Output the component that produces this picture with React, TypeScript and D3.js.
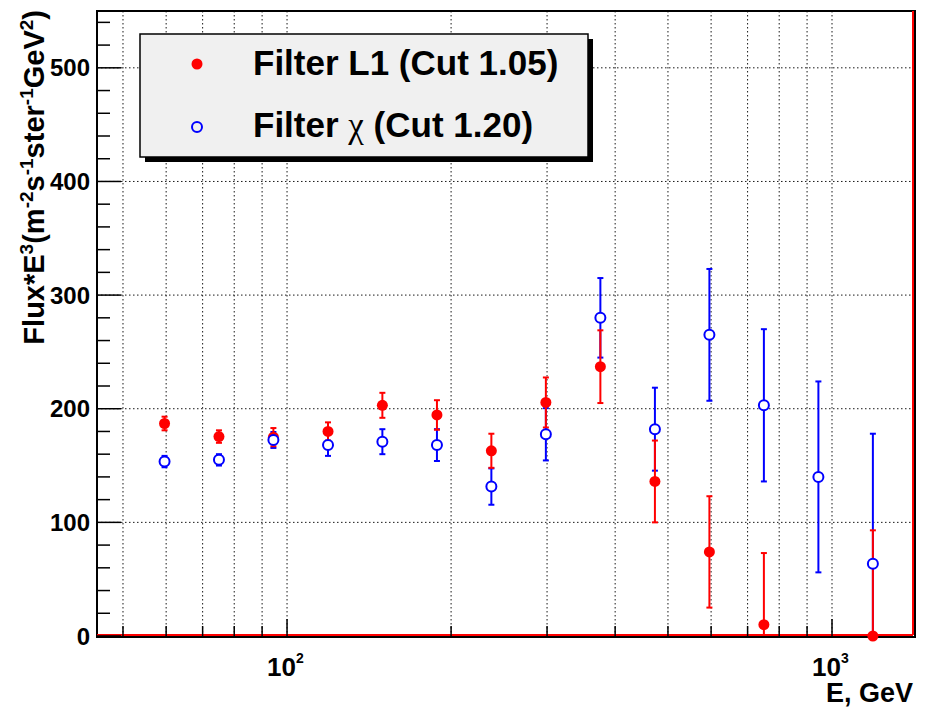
import React from "react";
import * as d3 from "d3";

const energy = [59.6, 75.0, 94.4, 118.9, 149.6, 188.4, 237.1, 298.5, 375.8, 473.2, 595.7, 749.9, 944.1, 1188.5];
const l1Val: (number | null)[] = [187, 175.5, 175, 180, 203, 194.5, 163, 205.5, 237, 136, 74, 10, null, 0];
const l1Err: (number | null)[] = [6, 5.5, 8, 8, 11, 13, 15, 22, 32, 36, 49, 63, null, 93];
const chiVal = [153.5, 155, 172.5, 168, 171, 168, 131.5, 177.5, 280, 182, 265, 203, 140, 63.5];
const chiErr = [5, 5, 7, 9.5, 11, 14, 16, 23, 35, 36.5, 58, 67, 84, 114.5];

const xTicks = [50, 60, 70, 80, 90, 100, 200, 300, 400, 500, 600, 700, 800, 900, 1000];
const xMajor = [100, 1000];
const xLabels = [{ v: 100, exp: "2" }, { v: 1000, exp: "3" }];
const yMajor = [0, 100, 200, 300, 400, 500];
const yMinor = d3.range(0, 560, 20);
const legendItems = ["Filter L1 (Cut 1.05)", "Filter χ (Cut 1.20)"];

const FONT = "Liberation Sans, Arial, Helvetica, sans-serif";

export default function App() {
  const L = 97, R = 915, T = 11, B = 636;
  const x = d3.scaleLog().domain([44.8, 1420]).range([L, R]);
  const y = d3.scaleLinear().domain([0, 550]).range([B, T]);
  const clampY = (v: number) => y(Math.max(0, Math.min(550, v)));

  const errBar = (cx: number, v: number, e: number, color: string, key: string) => {
    const top = clampY(v + e);
    const bot = clampY(v - e);
    return (
      <g key={key} stroke={color} strokeWidth={2}>
        <line x1={cx} x2={cx} y1={top} y2={bot} />
        <line x1={cx - 3} x2={cx + 3} y1={top} y2={top} />
        {v - e > 0 && <line x1={cx - 3} x2={cx + 3} y1={bot} y2={bot} />}
      </g>
    );
  };

  return (
    <svg width={929} height={707} style={{ position: "absolute", left: 0, top: 0, background: "#fff" }} fontFamily={FONT}>
      <rect x={0} y={0} width={929} height={707} fill="#fff" />
      {/* grid */}
      <g stroke="#000" strokeWidth={1} strokeDasharray="1.5 2.5" opacity={0.9}>
        {xTicks.map((t) => (
          <line key={"gx" + t} x1={x(t)} x2={x(t)} y1={T} y2={B} />
        ))}
        {yMajor.filter((v) => v > 0).map((v) => (
          <line key={"gy" + v} x1={L} x2={R} y1={y(v)} y2={y(v)} />
        ))}
      </g>
      {/* frame */}
      <rect x={L} y={T} width={R - L} height={B - T + 1} fill="none" stroke="#000" strokeWidth={2} />
      {/* red zero line and right edge */}
      <line x1={L} x2={R - 2} y1={B - 1} y2={B - 1} stroke="#f00" strokeWidth={2} />
      <line x1={R - 2} x2={R - 2} y1={T} y2={B - 1} stroke="#f00" strokeWidth={2} />
      {/* ticks */}
      <g stroke="#000" strokeWidth={1.5}>
        {yMinor.map((v) => (
          <line key={"yt" + v} x1={L} x2={L + (v % 100 === 0 ? 24 : 13)} y1={y(v)} y2={y(v)} />
        ))}
        {xTicks.map((t) => (
          <line key={"xt" + t} x1={x(t)} x2={x(t)} y1={B} y2={B - (xMajor.includes(t) ? 17 : 10)} />
        ))}
      </g>
      {/* y labels */}
      <g fontSize={24} fontWeight="bold" textAnchor="end" fill="#000">
        {yMajor.map((v) => (
          <text key={"yl" + v} x={90} y={y(v)} dy="0.36em">{v}</text>
        ))}
      </g>
      {/* x labels */}
      <g fontWeight="bold" fill="#000">
        {xLabels.map((l) => (
          <text key={"xl" + l.v} x={x(l.v) - 20} y={676} fontSize={26}>
            10<tspan dy={-13} fontSize={14}>{l.exp}</tspan>
          </text>
        ))}
      </g>
      <text x={913} y={702} fontSize={27} fontWeight="bold" textAnchor="end">E, GeV</text>
      {/* y title */}
      <text transform="translate(44,10) rotate(-90)" fontSize={29} fontWeight="bold" textAnchor="end">
        Flux*E<tspan dy={-11} fontSize={19}>3</tspan>
        <tspan dy={11}>(m</tspan><tspan dy={-11} fontSize={19}>-2</tspan>
        <tspan dy={11}>s</tspan><tspan dy={-11} fontSize={19}>-1</tspan>
        <tspan dy={11}>ster</tspan><tspan dy={-11} fontSize={19}>-1</tspan>
        <tspan dy={11}>GeV</tspan><tspan dy={-11} fontSize={19}>2</tspan>
        <tspan dy={11}>)</tspan>
      </text>
      {/* data: chi (blue) */}
      {chiVal.map((v, i) => errBar(x(energy[i]), v, chiErr[i], "#00f", "be" + i))}
      {/* data: L1 (red) */}
      {l1Val.map((v, i) => (v === null ? null : errBar(x(energy[i]), v, l1Err[i] as number, "#f00", "re" + i)))}
      {l1Val.map((v, i) =>
        v === null ? null : <circle key={"rm" + i} cx={x(energy[i])} cy={y(v)} r={5.5} fill="#f00" />
      )}
      {chiVal.map((v, i) => (
        <circle key={"bm" + i} cx={x(energy[i])} cy={y(v)} r={5} fill="#fff" stroke="#00f" strokeWidth={2} />
      ))}
      {/* legend */}
      <rect x={145} y={39} width={448} height={123} fill="#000" />
      <rect x={140} y={34} width={448} height={123} fill="#f0f0f0" stroke="#000" strokeWidth={1.5} />
      <circle cx={197} cy={64} r={5.5} fill="#f00" />
      <circle cx={197} cy={127} r={5} fill="none" stroke="#00f" strokeWidth={2} />
      <text x={253} y={75} fontSize={35} fontWeight="bold">{legendItems[0]}</text>
      <text x={253} y={137} fontSize={35} fontWeight="bold">
        {legendItems[1].split("χ")[0]}
        <tspan fontFamily="Liberation Serif, Times New Roman, serif" fontWeight="normal">χ</tspan>
        {legendItems[1].split("χ")[1]}
      </text>
    </svg>
  );
}
